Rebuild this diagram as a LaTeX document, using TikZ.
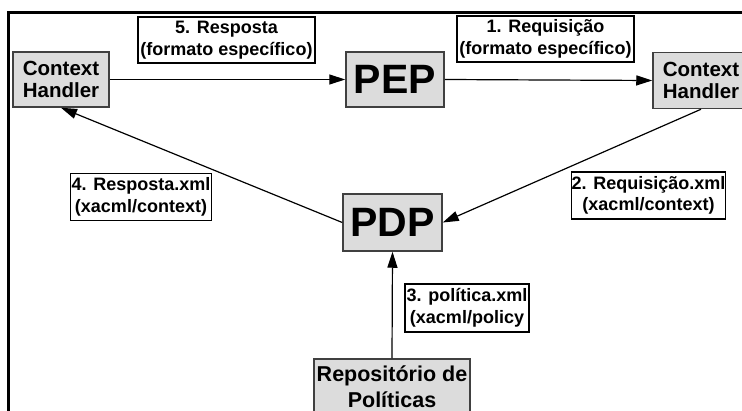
\documentclass[tikz,border=0pt]{standalone}
\usepackage{fontspec}
\setmainfont{Liberation Sans}
\usetikzlibrary{arrows.meta}
\definecolor{boxgray}{RGB}{220,220,220}
\definecolor{boxedge}{RGB}{64,64,64}
\begin{document}
\begin{tikzpicture}[x=1pt,y=-1pt,
  comp/.style={draw=boxedge, line width=1.5pt, fill=boxgray, align=center, inner sep=0pt,
    font=\fontsize{20.5}{22}\selectfont\bfseries},
  bigcomp/.style={comp, font=\fontsize{41}{45}\selectfont\bfseries},
  lbl/.style={draw=black, line width=1.4pt, fill=white, align=center, inner sep=0pt,
    font=\fontsize{18}{21.5}\selectfont\bfseries},
  conn/.style={line width=1.2pt, -{Triangle[length=16pt,width=10pt]}},
  framestyle/.style={line width=3pt}]
\useasboundingbox (0,0) rectangle (742,411);
\clip (0,0) rectangle (742,411);
% frame
\coordinate (fbl) at (8,420);
\coordinate (ftl) at (8,12.5);
\coordinate (ftr) at (750,12.5);
\draw[framestyle] (fbl) -- (ftl) -- (ftr);
% components
\node[comp, minimum width=96pt, minimum height=55pt] (chl) at (61,79.5) {Context\\Handler};
\node[bigcomp, minimum width=98pt, minimum height=55pt] (pep) at (395,79.5) {PEP};
\node[comp, minimum width=96pt, minimum height=56pt] (chr) at (701,80.5) {Context\\Handler};
\node[bigcomp, minimum width=99pt, minimum height=57pt] (pdp) at (392.5,222.5) {PDP};
\node[comp, minimum width=156pt, minimum height=56pt, font=\fontsize{21.5}{26}\selectfont\bfseries] (rep) at (392,387) {Repositório de\\Políticas};
% labels
\node[lbl, minimum width=177pt, minimum height=46pt] (l5) at (226.5,40) {5. Resposta\\(formato específico)};
\node[lbl, minimum width=177pt, minimum height=46pt] (l1) at (545.5,39) {1. Requisição\\(formato específico)};
\node[lbl, minimum width=141pt, minimum height=47pt] (l4) at (141,197) {4. Resposta.xml\\(xacml/context)};
\node[lbl, minimum width=153pt, minimum height=47pt] (l2) at (648.5,195.5) {2. Requisição.xml\\(xacml/context)};
\node[lbl, minimum width=124pt, minimum height=48pt] (l3) at (467,308) {3. política.xml\\(xacml/policy};
% connectors
\draw[conn] (chl.east) -- (pep.west);
\draw[conn] (pep.east) -- (chr.west);
\draw[conn] (chr.south) -- (pdp.east);
\draw[conn] (pdp.west) -- (chl.south);
\draw[conn] (rep.north) -- (pdp.south);
\end{tikzpicture}
\end{document}
